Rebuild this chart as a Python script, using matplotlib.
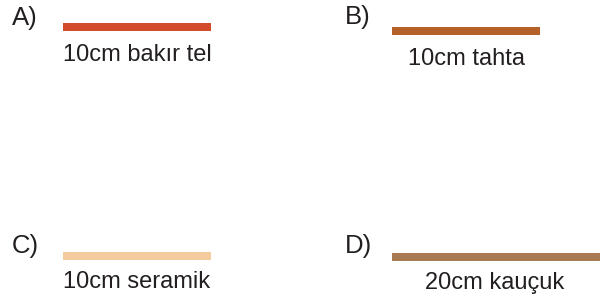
import matplotlib.pyplot as plt

# Data
letters = ['A)', 'B)', 'C)', 'D)']
labels = ['10cm bakır tel', '10cm tahta', '10cm seramik', '20cm kauçuk']
lengths_cm = [10, 10, 10, 20]
colors = ['#D44B2A', '#B5612A', '#F5CB9E', '#A87B52']

# Layout (pixel units, y down)
letter_xy = [(12, 25), (345, 24), (12, 253), (345, 253)]
bar_left = [63, 392, 63, 392]
bar_width = [148, 148, 148, 208]
bar_top = [23, 27, 252, 253]
bar_h = 8
label_xy = [(137, 61), (466, 65), (137, 288), (495, 289)]

fig = plt.figure(figsize=(6.07, 3.00), dpi=100)
ax = fig.add_axes([0, 0, 1, 1])
ax.set_xlim(0, 607)
ax.set_ylim(300, 0)
ax.axis('off')

txt = '#231F20'
for i in range(len(letters)):
    ax.barh(bar_top[i] + bar_h / 2, bar_width[i], height=bar_h,
            left=bar_left[i], color=colors[i])
    ax.text(letter_xy[i][0], letter_xy[i][1], letters[i], fontsize=18.5,
            family='Liberation Sans', color=txt, ha='left', va='baseline')
    ax.text(label_xy[i][0], label_xy[i][1], labels[i], fontsize=17,
            family='Liberation Sans', color=txt, ha='center', va='baseline')

fig.savefig('out.png', dpi=100)
